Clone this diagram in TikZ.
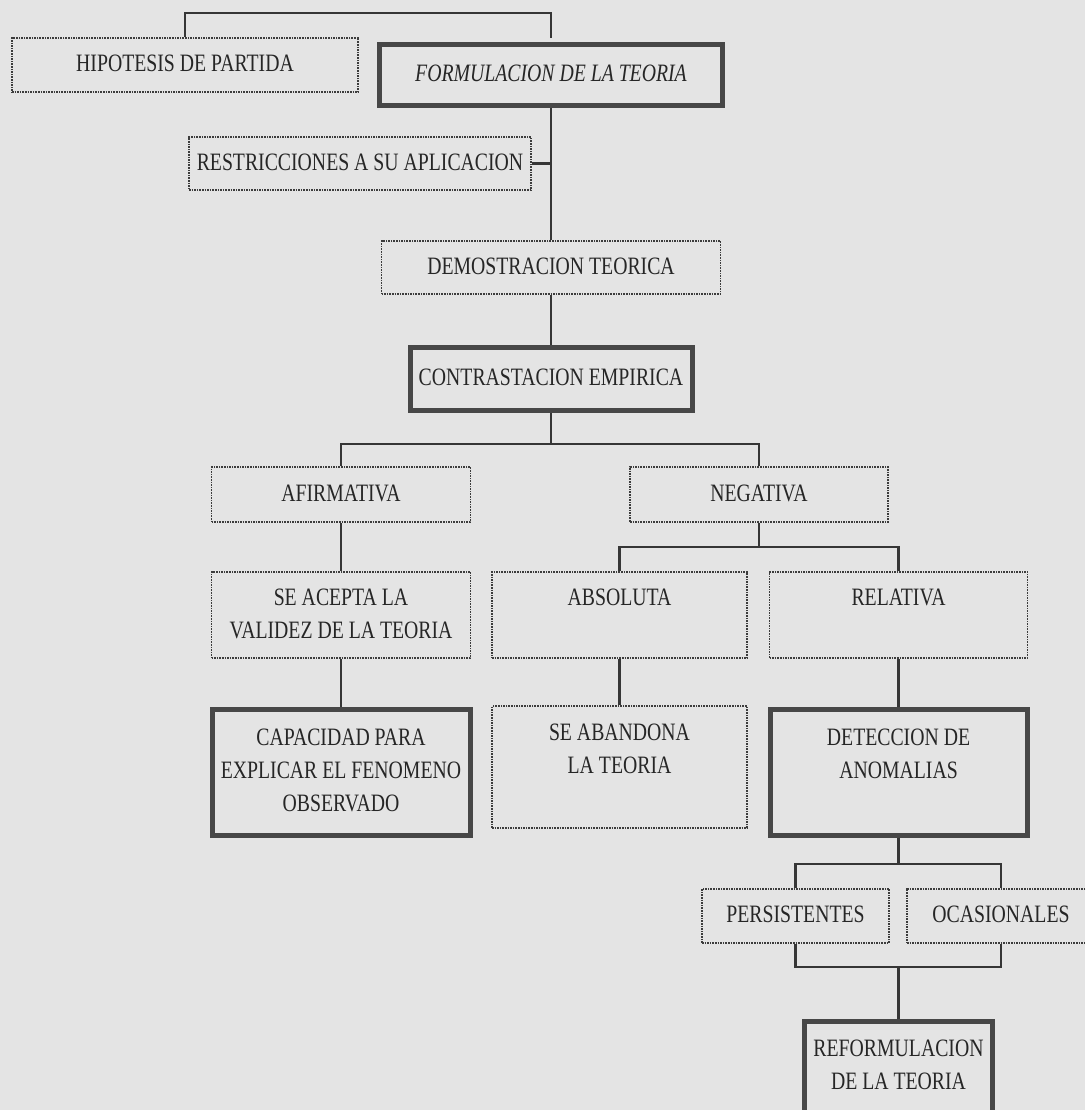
\documentclass[tikz,border=0pt]{standalone}
\usepackage{fontspec}
\newfontfamily\boxfont[FakeStretch=0.79]{Liberation Serif}
\usepackage{tikz}
\usetikzlibrary{arrows}
\definecolor{paper}{HTML}{E4E4E4}
\definecolor{ink}{HTML}{262626}
\definecolor{rule}{HTML}{363636}
\definecolor{frame}{HTML}{474747}

\begin{document}
\begin{tikzpicture}[x=1pt,y=-1pt,font=\boxfont\fontsize{25}{33}\selectfont]
  \tikzstyle{box}=[rectangle,draw=ink!90,densely dotted,line width=1.6pt,
                   align=center,inner sep=0pt,text=ink]
  \tikzstyle{heavy box}=[box,solid,line width=5pt,draw=frame]
  \tikzstyle{link}=[draw=rule,line width=2.5pt]
  \useasboundingbox (0,0) rectangle (1085,1110);
  \fill[paper] (0,0) rectangle (1085,1110);

  \node [box,minimum width=346pt,minimum height=54.5pt] (hip) at (185,65)
    {HIPOTESIS DE PARTIDA\strut};
  \node [heavy box,minimum width=343pt,minimum height=61pt] (form) at (551,75)
    {\itshape FORMULACION DE LA TEORIA\strut};
  \node [box,minimum width=342pt,minimum height=53pt] (restr) at (360,163.5)
    {RESTRICCIONES A SU APLICACION\strut};
  \node [box,minimum width=339pt,minimum height=53pt] (dem) at (551,267.5)
    {DEMOSTRACION TEORICA\strut};
  \node [heavy box,minimum width=282pt,minimum height=63pt] (con) at (551,379)
    {CONTRASTACION EMPIRICA\strut};

  \node [box,minimum width=259pt,minimum height=55pt] (afi) at (341,494.5)
    {AFIRMATIVA\strut};
  \node [box,minimum width=258pt,minimum height=55pt] (neg) at (759,494.5)
    {NEGATIVA\strut};

  \node [box,minimum width=259pt,minimum height=86pt] (acep) at (341,615)
    {SE ACEPTA LA\strut\\VALIDEZ DE LA TEORIA\strut};
  \node [box,minimum width=255pt,minimum height=86pt] (abs) at (619.5,615)
    {ABSOLUTA\strut\\\strut};
  \node [box,minimum width=258pt,minimum height=86pt] (rel) at (898.5,615)
    {RELATIVA\strut\\\strut};

  \node [heavy box,minimum width=258pt,minimum height=126pt] (cap) at (341,772)
    {CAPACIDAD PARA\strut\\EXPLICAR EL FENOMENO\strut\\OBSERVADO\strut};
  \node [box,minimum width=255pt,minimum height=121.5pt] (aban) at (619.5,767)
    {SE ABANDONA\strut\\LA TEORIA\strut\\\strut};
  \node [heavy box,minimum width=257pt,minimum height=126pt] (det) at (898.5,772)
    {DETECCION DE\strut\\ANOMALIAS\strut\\\strut};

  \node [box,minimum width=187pt,minimum height=54.5pt] (pers) at (795.5,916)
    {PERSISTENTES\strut};
  \node [box,minimum width=188pt,minimum height=54.5pt] (ocas) at (1001,916)
    {OCASIONALES\strut};
  \node [heavy box,minimum width=188pt,minimum height=122.5pt] (reform) at (898.5,1083)
    {REFORMULACION\strut\\DE LA TEORIA\strut\\\strut};

  \coordinate (top) at (366,13);
  \coordinate (fork1) at (551,444);
  \coordinate (fork2) at (759,547);
  \coordinate (fork3) at (898.5,864);
  \coordinate (fork4) at (898.5,967);

  \draw [link,shorten >=4pt] (hip.north) |- (top) -| (form.north);
  \draw [link] (form.south) -- (dem.north);
  \draw [link] (restr.east) -- (restr.east -| form.south);
  \draw [link] (dem.south) -- (con.north);
  \draw [link] (con.south) -- (fork1);
  \draw [link] (afi.north) |- (fork1) -| (neg.north);
  \draw [link] (afi.south) -- (acep.north);
  \draw [link] (acep.south) -- (cap.north);
  \draw [link] (neg.south) -- (fork2);
  \draw [link] (abs.north) |- (fork2) -| (rel.north);
  \draw [link] (abs.south) -- (aban.north);
  \draw [link] (rel.south) -- (det.north);
  \draw [link] (det.south) -- (fork3);
  \draw [link] (pers.north) |- (fork3) -| (ocas.north);
  \draw [link] (pers.south) |- (fork4) -| (ocas.south);
  \draw [link] (fork4) -- (reform.north);
\end{tikzpicture}
\end{document}
